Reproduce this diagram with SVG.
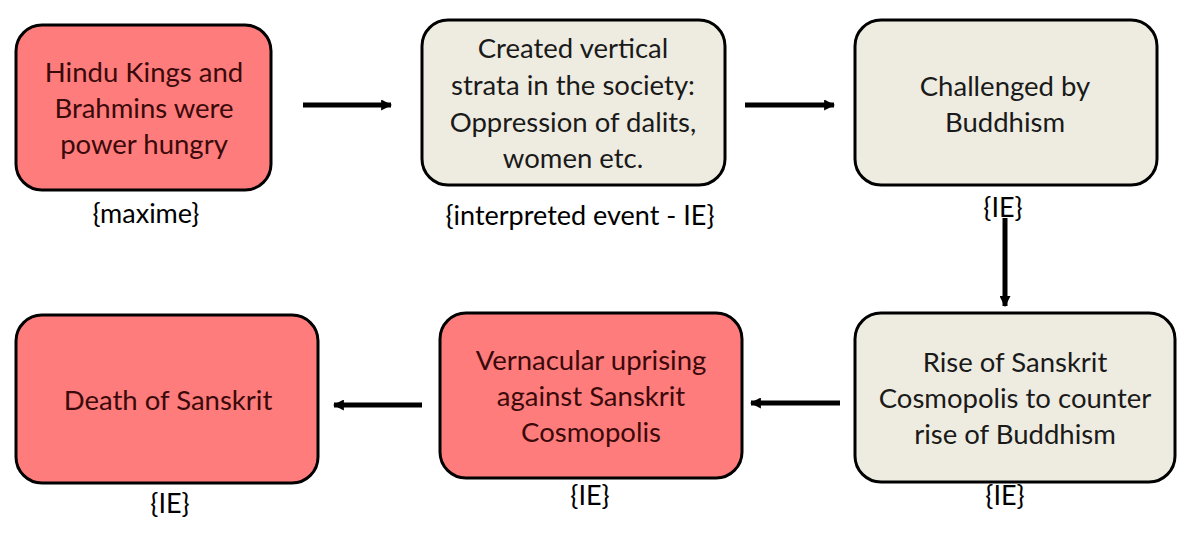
<svg xmlns="http://www.w3.org/2000/svg" width="1191" height="549" viewBox="0 0 1191 549">
<defs>
<style>
.red{fill:#FF7C7C;stroke:#000;stroke-width:3}
.bei{fill:#EEECE1;stroke:#000;stroke-width:3}
text{font-family:Lato,"Liberation Sans",sans-serif;font-size:27.5px;text-anchor:middle;fill:#1a1a1a}
.rt{fill:#3a0a0a}
.lbl{font-size:27px;fill:#000}
.con line{stroke:#000;stroke-width:5}
</style>
<marker id="ah" viewBox="0 0 10 10" refX="9" refY="5" markerWidth="2.2" markerHeight="2.2" orient="auto" markerUnits="strokeWidth">
<path d="M0,0 L10,5 L0,10 z" fill="#000"/>
</marker>
</defs>
<rect width="1191" height="549" fill="#fff"/>
<g id="n1">
<rect class="red" x="16" y="25" width="255" height="165" rx="26"/>
<text class="rt" x="144" y="82">Hindu Kings and</text>
<text class="rt" x="144" y="118">Brahmins were</text>
<text class="rt" x="144" y="154">power hungry</text>
<text class="lbl" x="146" y="223">{maxime}</text>
</g>
<g id="n2">
<rect class="bei" x="422" y="20" width="303" height="165" rx="26"/>
<text x="573" y="58">Created vertical</text>
<text x="573" y="95">strata in the society:</text>
<text x="573" y="132">Oppression of dalits,</text>
<text x="573" y="168">women etc.</text>
<text class="lbl" x="580" y="225">{interpreted event - IE}</text>
</g>
<g id="n3">
<rect class="bei" x="855" y="20" width="302" height="165" rx="26"/>
<text x="1005" y="96">Challenged by</text>
<text x="1005" y="132">Buddhism</text>
<text class="lbl" x="1003" y="217">{IE}</text>
</g>
<g id="n4">
<rect class="bei" x="855" y="313" width="320" height="169" rx="26"/>
<text x="1015" y="372">Rise of Sanskrit</text>
<text x="1015" y="408">Cosmopolis to counter</text>
<text x="1015" y="444">rise of Buddhism</text>
<text class="lbl" x="1005" y="505">{IE}</text>
</g>
<g id="n5">
<rect class="red" x="440" y="313" width="302" height="165" rx="26"/>
<text class="rt" x="591" y="370">Vernacular uprising</text>
<text class="rt" x="591" y="406">against Sanskrit</text>
<text class="rt" x="591" y="442">Cosmopolis</text>
<text class="lbl" x="590" y="505">{IE}</text>
</g>
<g id="n6">
<rect class="red" x="16" y="315" width="302" height="168" rx="26"/>
<text class="rt" x="168" y="410">Death of Sanskrit</text>
<text class="lbl" x="170" y="513">{IE}</text>
</g>
<g class="con" id="connectors">
<line x1="303" y1="105" x2="391" y2="105" marker-end="url(#ah)"/>
<line x1="745" y1="105" x2="834" y2="105" marker-end="url(#ah)"/>
<line x1="1005" y1="218" x2="1005" y2="306" marker-end="url(#ah)"/>
<line x1="840" y1="403" x2="751" y2="403" marker-end="url(#ah)"/>
<line x1="422" y1="405" x2="334" y2="405" marker-end="url(#ah)"/>
</g>
</svg>
